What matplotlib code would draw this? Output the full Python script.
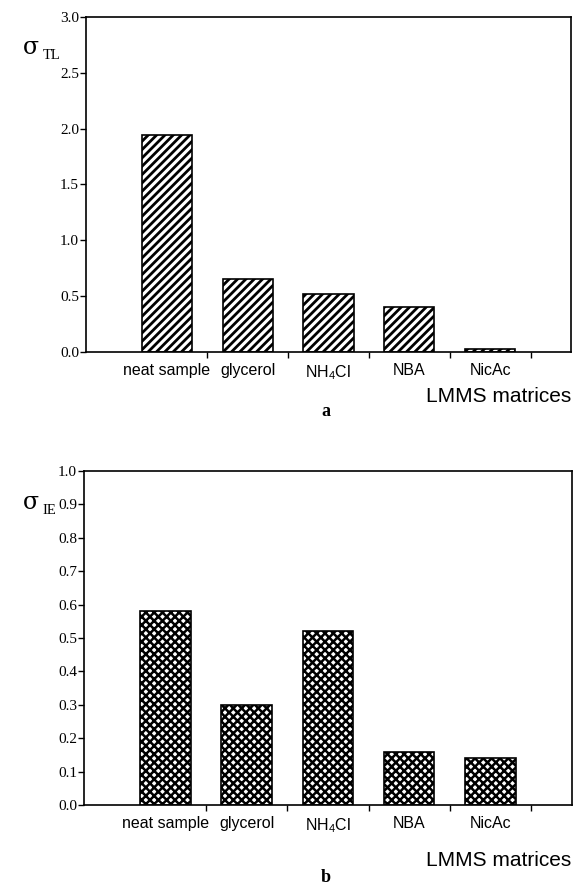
import matplotlib
matplotlib.use("Agg")
import matplotlib.pyplot as plt
import numpy as np

# data
matrices = ["neat sample", "glycerol", "NH$_4$Cl", "NBA", "NicAc"]
sigma_tl = [1.94, 0.65, 0.52, 0.40, 0.025]
sigma_ie = [0.58, 0.30, 0.52, 0.16, 0.14]
yticks_a = [0.0, 0.5, 1.0, 1.5, 2.0, 2.5, 3.0]
yticks_b = [0.0, 0.1, 0.2, 0.3, 0.4, 0.5, 0.6, 0.7, 0.8, 0.9, 1.0]

plt.rcParams['mathtext.fontset'] = 'custom'
plt.rcParams['mathtext.rm'] = 'Liberation Sans'
plt.rcParams['mathtext.it'] = 'Liberation Sans'
plt.rcParams['hatch.color'] = 'black'

fig = plt.figure(figsize=(5.74, 8.86), dpi=100)
xpos = np.arange(1, len(matrices) + 1)


def setup(ax, yticks, ymax):
    ax.set_xlim(0, 6)
    ax.set_ylim(0, ymax)
    ax.set_yticks(yticks)
    ax.set_yticklabels(["%.1f" % v for v in yticks], family="Liberation Serif", fontsize=11)
    ax.tick_params(axis='y', direction='out', length=4, width=1, pad=1)
    # x ticks between the bars, labels under the bars
    ax.set_xticks(np.arange(1.5, 6, 1.0))
    ax.set_xticklabels([])
    ax.set_xticks(xpos, minor=True)
    ax.set_xticklabels(matrices, minor=True, family="Liberation Sans", fontsize=11.5)
    ax.tick_params(axis='x', which='major', direction='out', length=4, width=1)
    ax.tick_params(axis='x', which='minor', length=0, pad=8)
    for s in ax.spines.values():
        s.set_linewidth(1.2)


# panel a
plt.rcParams['hatch.linewidth'] = 2.0
ax1 = fig.add_axes([0.1498, 0.6027, 0.845, 0.3782])
ax1.bar(xpos, sigma_tl, width=0.62, color='white', edgecolor='black', hatch='////', linewidth=1.2)
setup(ax1, yticks_a, 3.0)
fig.text(0.040, 0.946, "σ", family="DejaVu Serif", fontsize=17, ha='left', va='center')
fig.text(0.074, 0.937, "TL", family="Liberation Serif", fontsize=10.5, ha='left', va='center')
fig.text(0.995, 0.553, "LMMS matrices", family="Liberation Sans", fontsize=15, ha='right', va='center')
fig.text(0.567, 0.535, "a", family="Liberation Serif", fontsize=13, weight='bold', ha='center', va='center')

# panel b
plt.rcParams['hatch.linewidth'] = 1.8
ax2 = fig.add_axes([0.1463, 0.0914, 0.850, 0.377])
ax2.bar(xpos, sigma_ie, width=0.62, color='white', edgecolor='black', hatch='xxxx', linewidth=1.2)
setup(ax2, yticks_b, 1.0)
fig.text(0.040, 0.433, "σ", family="DejaVu Serif", fontsize=17, ha='left', va='center')
fig.text(0.074, 0.424, "IE", family="Liberation Serif", fontsize=10.5, ha='left', va='center')
fig.text(0.995, 0.029, "LMMS matrices", family="Liberation Sans", fontsize=15, ha='right', va='center')
fig.text(0.567, 0.010, "b", family="Liberation Serif", fontsize=13, weight='bold', ha='center', va='center')

fig.savefig("out.png", dpi=100)
